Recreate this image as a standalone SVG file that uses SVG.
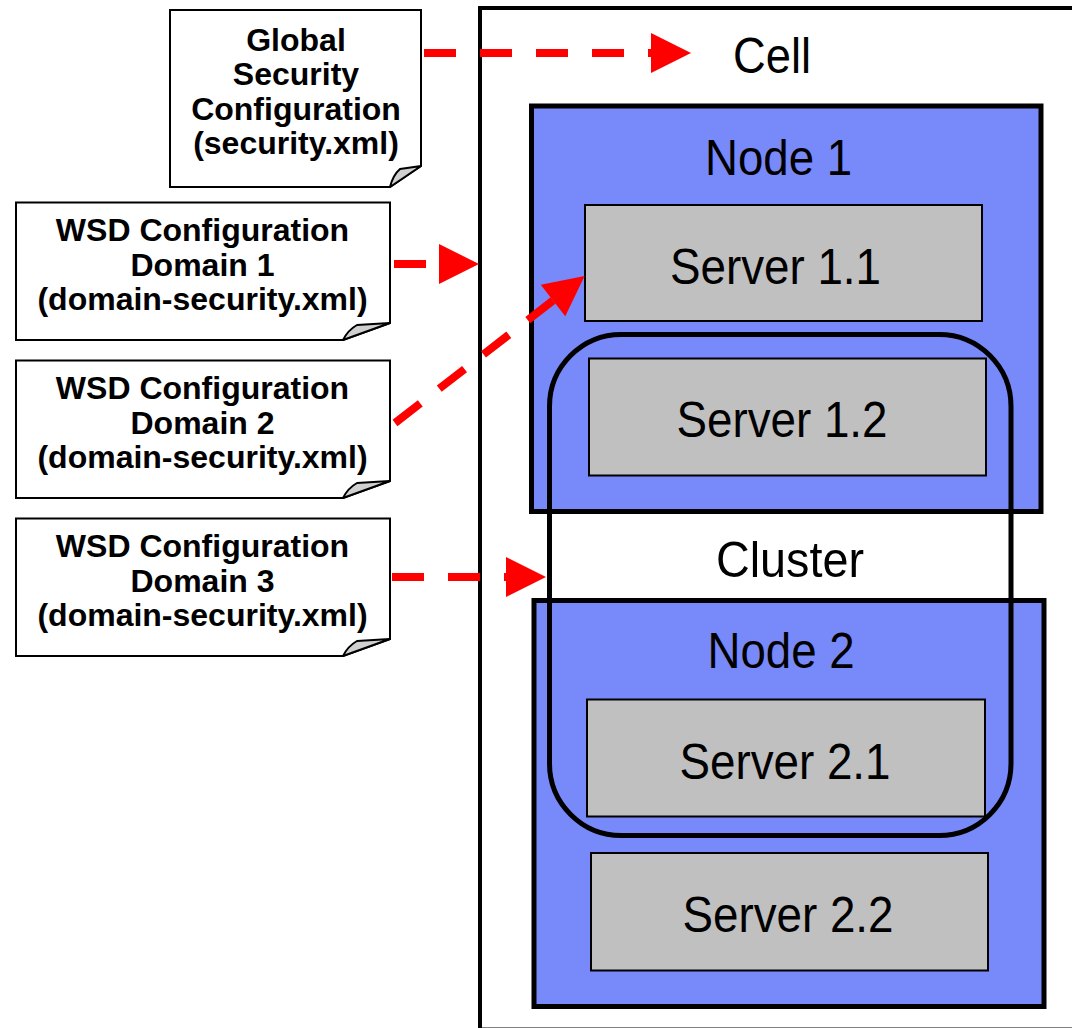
<svg xmlns="http://www.w3.org/2000/svg" width="1072" height="1028" viewBox="0 0 1072 1028">
  <style>
    .doc { fill: #ffffff; stroke: #000000; stroke-width: 2; }
    .fold { fill: #d0d0d0; stroke: #000000; stroke-width: 2; stroke-linejoin: round; }
    .doctext { font-family: "Liberation Sans", Arial, sans-serif; font-weight: bold; font-size: 32px; fill: #000000; text-anchor: middle; }
    .big { font-family: "Liberation Sans", Arial, sans-serif; font-size: 50px; fill: #000000; text-anchor: middle; }
    .cell { fill: #ffffff; stroke: #000000; stroke-width: 4; }
    .node { fill: #7889fa; stroke: #000000; stroke-width: 5; }
    .server { fill: #c0c0c0; stroke: #000000; stroke-width: 2; }
    .cluster { fill: none; stroke: #000000; stroke-width: 5; }
    .link { fill: none; stroke: #ff0000; stroke-width: 8; stroke-dasharray: 32 24; }
  </style>
  <defs>
    <marker id="head" markerUnits="userSpaceOnUse" markerWidth="40" markerHeight="40" refX="0" refY="20" orient="auto" overflow="visible">
      <path d="M0,0 L40,20 L0,40 Z" fill="#ff0000"/>
    </marker>
  </defs>

  <rect width="1072" height="1028" fill="#ffffff"/>

  <g id="cell">
    <rect class="cell" x="480" y="8" width="700" height="1021.5"/>
    <text class="big" x="772" y="73" textLength="78" lengthAdjust="spacingAndGlyphs">Cell</text>
  </g>

  <g id="node1">
    <rect class="node" x="531.5" y="106" width="509.5" height="405.5"/>
    <text class="big" x="778.5" y="175" textLength="147" lengthAdjust="spacingAndGlyphs">Node 1</text>
  </g>
  <g id="server11">
    <rect class="server" x="585" y="205" width="397" height="116"/>
    <text class="big" x="775.5" y="284" textLength="211" lengthAdjust="spacingAndGlyphs">Server 1.1</text>
  </g>
  <g id="server12">
    <rect class="server" x="589" y="358.5" width="397" height="117"/>
    <text class="big" x="782" y="437" textLength="211" lengthAdjust="spacingAndGlyphs">Server 1.2</text>
  </g>

  <g id="node2">
    <rect class="node" x="534" y="600.5" width="510" height="406"/>
    <text class="big" x="781" y="668" textLength="147" lengthAdjust="spacingAndGlyphs">Node 2</text>
  </g>
  <g id="server21">
    <rect class="server" x="587" y="699.5" width="398" height="117"/>
    <text class="big" x="785" y="779" textLength="211" lengthAdjust="spacingAndGlyphs">Server 2.1</text>
  </g>
  <g id="server22">
    <rect class="server" x="591" y="853" width="397" height="117.5"/>
    <text class="big" x="788" y="932" textLength="211" lengthAdjust="spacingAndGlyphs">Server 2.2</text>
  </g>

  <g id="cluster">
    <rect class="cluster" x="549.5" y="334.5" width="461.5" height="501" rx="72" ry="72"/>
    <text class="big" x="790" y="577" textLength="148" lengthAdjust="spacingAndGlyphs">Cluster</text>
  </g>

  <g id="global-security">
    <path class="doc" d="M170,10 H421 V166 L390,187 H170 Z"/>
    <path class="fold" d="M390,187 Q393,175 400,169 L421,166 Z"/>
    <text class="doctext" x="296" y="50.5">Global</text>
    <text class="doctext" x="296" y="85">Security</text>
    <text class="doctext" x="296" y="119.5">Configuration</text>
    <text class="doctext" x="296" y="154">(security.xml)</text>
  </g>

  <g id="wsd-domain1">
    <path class="doc" d="M16,202.5 H390 V323 L343,340 H16 Z"/>
    <path class="fold" d="M343,340 Q348,330 357,325 L390,323 Z"/>
    <text class="doctext" x="202.5" y="241">WSD Configuration</text>
    <text class="doctext" x="202.5" y="275.5">Domain 1</text>
    <text class="doctext" x="202.5" y="310">(domain-security.xml)</text>
  </g>

  <g id="wsd-domain2">
    <path class="doc" d="M16,360.5 H390 V481 L343,498 H16 Z"/>
    <path class="fold" d="M343,498 Q348,488 357,483 L390,481 Z"/>
    <text class="doctext" x="202.5" y="399">WSD Configuration</text>
    <text class="doctext" x="202.5" y="433.5">Domain 2</text>
    <text class="doctext" x="202.5" y="468">(domain-security.xml)</text>
  </g>

  <g id="wsd-domain3">
    <path class="doc" d="M16,518.5 H390 V639 L343,656 H16 Z"/>
    <path class="fold" d="M343,656 Q348,646 357,641 L390,639 Z"/>
    <text class="doctext" x="202.5" y="557">WSD Configuration</text>
    <text class="doctext" x="202.5" y="591.5">Domain 3</text>
    <text class="doctext" x="202.5" y="626">(domain-security.xml)</text>
  </g>

  <g id="connectors">
    <path class="link" d="M424,53 H651" marker-end="url(#head)"/>
    <path class="link" d="M394,264 H439" marker-end="url(#head)"/>
    <path class="link" d="M395,423 L553,300.5" marker-end="url(#head)"/>
    <path class="link" d="M392,577 H506" marker-end="url(#head)"/>
  </g>
</svg>
